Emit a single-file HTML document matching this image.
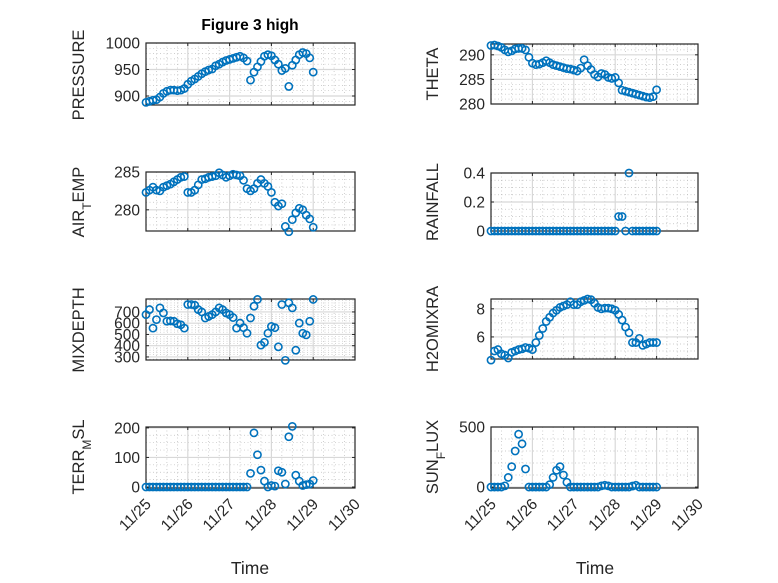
<!DOCTYPE html>
<html><head><meta charset="utf-8"><style>
body{margin:0;background:#fff;}
svg{display:block;font-family:"Liberation Sans","DejaVu Sans",sans-serif;}
</style></head><body>
<svg id="fig" width="778" height="583" viewBox="0 0 778 583"></svg>
<script>
const hours=[0,2,4,6,8,10,12,14,16,18,20,22,24,26,28,30,32,34,36,38,40,42,44,46,48,50,52,54,56,58,60,62,64,66,68,70,72,74,76,78,80,82,84,86,88,90,92,94,96];
const pressure=[888,890,892,893,898,905,909,911,911,910,911,914,922,928,932,937,942,946,949,951,957,960,964,967,969,971,973,975,972,966,930,945,955,965,975,978,976,968,960,948,952,918,958,968,978,982,980,972,945];
const airTemp=[282.3,282.6,283.0,282.6,282.5,283.0,283.2,283.4,283.7,284.0,284.3,284.4,282.3,282.3,282.6,283.3,284.0,284.1,284.3,284.4,284.5,284.9,284.6,284.3,284.5,284.7,284.6,284.5,283.9,282.8,282.5,282.8,283.5,284.0,283.5,283.1,282.3,281.0,280.5,280.8,277.8,277.1,278.7,279.6,280.2,280.0,279.3,278.8,277.7];
const mixDepth=[676,721,556,632,736,691,617,620,617,595,586,556,766,766,760,721,700,646,660,676,700,736,720,691,676,650,556,601,560,511,646,751,811,405,430,511,571,560,390,766,270,781,736,360,601,511,496,617,811];
const terrMsl=[0,0,0,0,0,0,0,0,0,0,0,0,0,0,0,0,0,0,0,0,0,0,0,0,0,0,0,0,0,0,46,183,109,57,20,0,5,3,55,50,10,170,205,40,20,5,8,10,22];
const theta=[291.9,292.0,291.8,291.5,291.0,290.6,290.8,291.2,291.3,291.3,291.0,289.5,288.3,288.0,288.1,288.4,288.8,288.4,288.0,287.8,287.6,287.4,287.2,287.1,286.9,286.7,287.3,289.0,287.8,287.0,286.0,285.5,286.2,286.0,285.4,285.2,285.4,284.3,282.8,282.6,282.4,282.2,282.0,281.8,281.6,281.4,281.3,281.5,282.9];
const rainfall=[0,0,0,0,0,0,0,0,0,0,0,0,0,0,0,0,0,0,0,0,0,0,0,0,0,0,0,0,0,0,0,0,0,0,0,0,0,0.1,0.1,0,0.4,0,0,0,0,0,0,0,0];
const h2oMix=[4.35,5.0,5.1,4.8,4.7,4.5,4.9,5.0,5.1,5.15,5.25,5.2,5.1,5.6,6.1,6.6,7.1,7.4,7.7,7.9,8.1,8.2,8.3,8.5,8.3,8.3,8.5,8.6,8.7,8.65,8.4,8.1,8.0,8.05,8.05,8.0,7.9,7.6,7.2,6.7,6.3,5.6,5.6,5.9,5.4,5.5,5.6,5.6,5.6];
const sunFlux=[0,0,0,0,10,80,170,300,440,360,150,0,0,0,0,0,0,20,80,140,170,100,40,0,0,0,0,0,0,0,0,0,10,15,10,0,0,0,0,0,0,8,15,0,0,0,0,0,0];
const xTickLabels=["11/25","11/26","11/27","11/28","11/29","11/30"];
const pressureTicks=[900,950,1000];
const airTempTicks=[280,285];
const mixDepthTicks=[300,400,500,600,700];
const terrTicks=[0,100,200];
const thetaTicks=[280,285,290];
const rainTicks=[0,0.2,0.4];
const h2oTicks=[6,8];
const sunTicks=[0,500];

const NS="http://www.w3.org/2000/svg";
const svg=document.getElementById('fig');
function mk(tag,attrs,parent){const e=document.createElementNS(NS,tag);for(const k in attrs)e.setAttribute(k,attrs[k]);(parent||svg).appendChild(e);return e;}

function panel(name,L,R,T,B,ymin,ymax,ticks,minorStep,vals,showX){
  const g=mk('g',{});
  
  
  const xs=h=>L+(h/24/5)*(R-L);
  const ys=v=>B-(v-ymin)/(ymax-ymin)*(B-T);
  mk('rect',{x:L,y:T,width:R-L,height:B-T,fill:'#fff'},g);
  for(let d=0;d<=5.001;d+=0.25){if(Math.abs(d-Math.round(d))<1e-6)continue;const x=L+d/5*(R-L);mk('line',{x1:x,x2:x,y1:T,y2:B,stroke:'#bdbdbd','stroke-width':0.7,'stroke-dasharray':'1,2.5'},g);}
  for(let v=Math.ceil(ymin/minorStep)*minorStep;v<=ymax+1e-9;v+=minorStep){if(ticks.some(t=>Math.abs(t-v)<1e-9))continue;const y=ys(v);mk('line',{x1:L,x2:R,y1:y,y2:y,stroke:'#bdbdbd','stroke-width':0.7,'stroke-dasharray':'1,2.5'},g);}
  for(let d=1;d<5;d++){const x=L+d/5*(R-L);mk('line',{x1:x,x2:x,y1:T,y2:B,stroke:'#d8d8d8','stroke-width':1.2},g);}
  ticks.forEach(v=>{const y=ys(v);mk('line',{x1:L,x2:R,y1:y,y2:y,stroke:'#d8d8d8','stroke-width':1.2},g);
    mk('line',{x1:L,x2:L+3,y1:y,y2:y,stroke:'#262626'},g);mk('line',{x1:R-3,x2:R,y1:y,y2:y,stroke:'#262626'},g);
    const t=mk('text',{x:L-6,y:y+5.5,'text-anchor':'end','font-size':15.5,fill:'#262626'},g);t.textContent=String(v);
    
    
  });
  for(let d=0;d<=5;d++){const x=L+d/5*(R-L);mk('line',{x1:x,x2:x,y1:B,y2:B-3,stroke:'#262626'},g);mk('line',{x1:x,x2:x,y1:T,y2:T+3,stroke:'#262626'},g);
    if(showX){const t=mk('text',{x:0,y:0,'text-anchor':'end','font-size':15.5,fill:'#262626',transform:`translate(${x+6},${B+17}) rotate(-45)`},g);t.textContent=xTickLabels[d];
      
      }
  }
  mk('rect',{x:L,y:T,width:R-L,height:B-T,fill:'none',stroke:'#262626','stroke-width':1.2},g);
  vals.forEach((v,i)=>{const c=mk('circle',{cx:xs(hours[i]),cy:ys(v),r:3.6,fill:'none',stroke:'#0072BD','stroke-width':1.6},g);
    
    
  });
}
function ylabel(html,x,y,name){const t=mk('text',{x:0,y:0,'text-anchor':'middle','font-size':16.5,fill:'#262626',transform:`translate(${x},${y}) rotate(-90)`});t.innerHTML=html;
  
  }

const LL=146,LR=355,RL=491,RR=698;
panel('pressure',LL,LR,43,105,883,1000,pressureTicks,10,pressure,false);
panel('air-temp',LL,LR,172,231,277.2,285,airTempTicks,1,airTemp,false);
panel('mixdepth',LL,LR,299,360,273,815,mixDepthTicks,20,mixDepth,false);
panel('terr-msl',LL,LR,427,488,-3.4,203,terrTicks,25,terrMsl,true);
panel('theta',RL,RR,44,104,280,292.2,thetaTicks,1,theta,false);
panel('rainfall',RL,RR,173,231,0,0.4,rainTicks,0.05,rainfall,false);
panel('h2omixra',RL,RR,299,359,4.43,8.7,h2oTicks,0.5,h2oMix,false);
panel('sun-flux',RL,RR,427,488,-8,500,sunTicks,100,sunFlux,true);

ylabel('PRESSURE',84,75,'pressure-ylabel');
ylabel('AIR<tspan baseline-shift="sub" font-size="12">T</tspan>EMP',84,202,'air-temp-ylabel');
ylabel('MIXDEPTH',84,330,'mixdepth-ylabel');
ylabel('TERR<tspan baseline-shift="sub" font-size="12">M</tspan>SL',84,457,'terr-msl-ylabel');
ylabel('THETA',438,74,'theta-ylabel');
ylabel('RAINFALL',438,202,'rainfall-ylabel');
ylabel('H2OMIXRA',438,329,'h2omixra-ylabel');
ylabel('SUN<tspan baseline-shift="sub" font-size="12">F</tspan>LUX',438,457,'sun-flux-ylabel');

let t=mk('text',{x:250,y:30,'text-anchor':'middle','font-size':15.5,'font-weight':'bold',fill:'#000'});t.textContent='Figure 3 high';


t=mk('text',{x:250,y:574,'text-anchor':'middle','font-size':17.5,fill:'#262626'});t.textContent='Time';


t=mk('text',{x:595,y:574,'text-anchor':'middle','font-size':17.5,fill:'#262626'});t.textContent='Time';


</script>
</body></html>
